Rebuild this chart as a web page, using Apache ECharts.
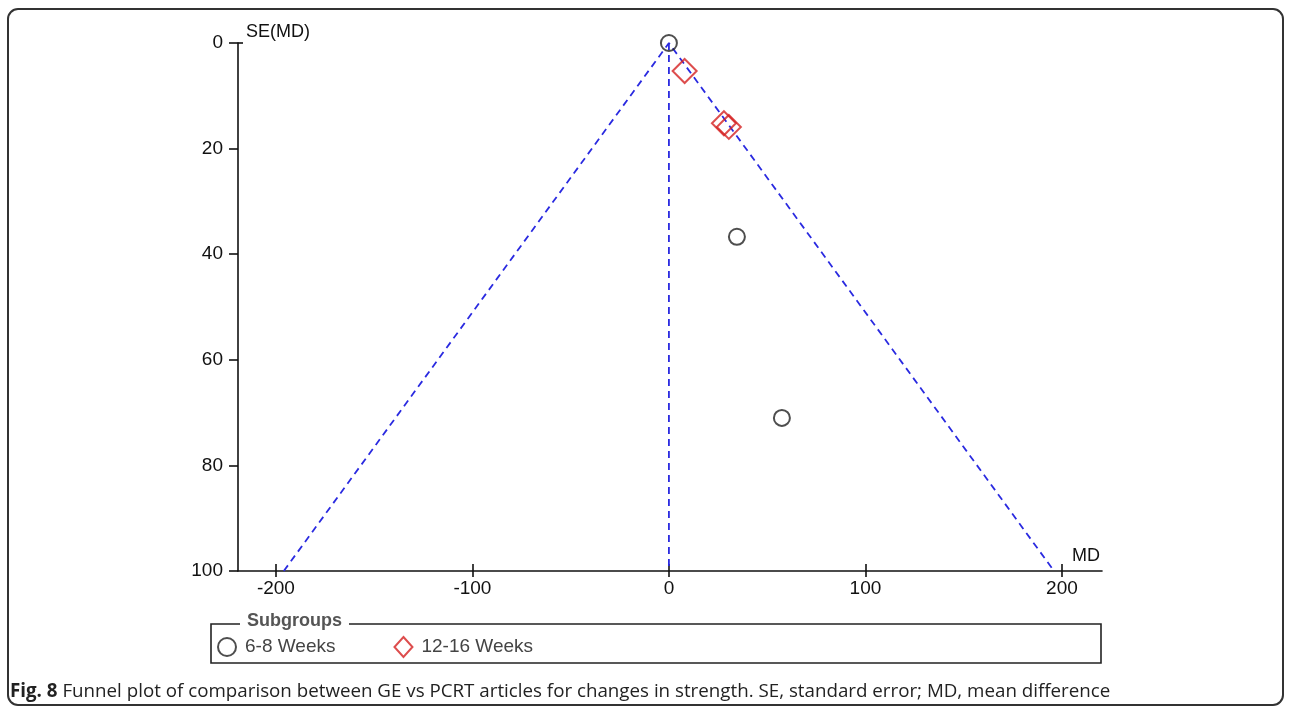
<!DOCTYPE html>
<html>
<head>
<meta charset="utf-8">
<script src="https://cdn.jsdelivr.net/npm/echarts@6/dist/echarts.min.js"></script>
<style>
  html, body { margin: 0; padding: 0; background: #fff; }
  #frame { position: absolute; left: 7px; top: 8px; width: 1273px; height: 694px; border: 2px solid #333; border-radius: 11px; }
  #chart { position: absolute; left: 0; top: 0; width: 1290px; height: 711px; }
  #caption { position: absolute; left: 10px; top: 677px; font-family: "Open Sans", "Noto Sans", sans-serif; font-size: 18.75px; color: #222; white-space: nowrap; letter-spacing: 0; }
</style>
</head>
<body>
<div id="frame"></div>
<div id="chart"></div>
<div id="caption"><b>Fig. 8</b> Funnel plot of comparison between GE vs PCRT articles for changes in strength. SE, standard error; MD, mean difference</div>
<script>
// Data (x = MD, y = SE(MD))
const groupNames = ['6-8 Weeks', '12-16 Weeks'];
const weeks6to8 = [[0, 0], [34.6, 36.7], [57.5, 71]];
const weeks12to16 = [[8, 5.3], [28, 15.2], [30.5, 15.9]];
const funnelOuter = [[-196, 100], [0, 0], [196, 100]];
const funnelCenter = [[0, 0], [0, 100]];
const xTicks = [-200, -100, 0, 100, 200];
const yTicks = [0, 20, 40, 60, 80, 100];

const chart = echarts.init(document.getElementById('chart'));
const font = 'Arial, "Liberation Sans", sans-serif';
const lineColor = '#2a2ae0';
const axisColor = '#111';

const baseX = { type: 'value', min: -219.3, max: 220.4, splitLine: { show: false } };
const baseY = { type: 'value', inverse: true, min: 0, max: 100, splitLine: { show: false } };

chart.setOption({
  animation: false,
  grid: { left: 238, top: 43, width: 864, height: 528, containLabel: false },
  xAxis: [
    Object.assign({}, baseX, {
      position: 'bottom',
      name: 'MD', nameLocation: 'end', nameGap: 0,
      nameTextStyle: { fontFamily: font, fontSize: 18, color: axisColor, align: 'right', verticalAlign: 'bottom', padding: [0, 2, 6, 0] },
      axisLine: { onZero: false, lineStyle: { color: axisColor, width: 1.6 } },
      axisTick: { show: true, length: 6, customValues: xTicks, lineStyle: { color: axisColor, width: 1.6 } },
      axisLabel: { customValues: xTicks, fontFamily: font, fontSize: 19, color: axisColor, margin: 8 }
    }),
    Object.assign({}, baseX, {
      position: 'bottom',
      axisLine: { show: false, onZero: false },
      axisTick: { show: true, inside: true, length: 7, customValues: xTicks, lineStyle: { color: axisColor, width: 1.6 } },
      axisLabel: { show: false }
    })
  ],
  yAxis: [
    Object.assign({}, baseY, {
      position: 'left',
      name: 'SE(MD)', nameLocation: 'start', nameGap: 2,
      nameTextStyle: { fontFamily: font, fontSize: 18, color: axisColor, align: 'left', verticalAlign: 'bottom', padding: [0, 0, 0, 8] },
      axisLine: { onZero: false, lineStyle: { color: axisColor, width: 1.6 } },
      axisTick: { show: true, length: 9, customValues: yTicks, lineStyle: { color: axisColor, width: 1.6 } },
      axisLabel: { customValues: yTicks, fontFamily: font, fontSize: 19, color: axisColor, margin: 15 }
    }),
    Object.assign({}, baseY, {
      position: 'left',
      axisLine: { show: false, onZero: false },
      axisTick: { show: true, inside: true, length: 5, customValues: [0], lineStyle: { color: axisColor, width: 1.6 } },
      axisLabel: { show: false }
    })
  ],
  legend: {
    left: 212, top: 631, itemGap: 58, itemWidth: 18, itemHeight: 20,
    textStyle: { fontFamily: font, fontSize: 19, color: '#444', padding: [0, 0, 0, 4] },
    data: [
      { name: groupNames[0], icon: 'circle', itemStyle: { color: '#fff', borderColor: '#222', borderWidth: 2 } },
      { name: groupNames[1], icon: 'diamond', itemStyle: { color: '#fff', borderColor: '#d42020', borderWidth: 2 } }
    ]
  },
  graphic: [
    { type: 'rect', shape: { x: 211, y: 624, width: 890, height: 39 }, style: { fill: 'none', stroke: '#222', lineWidth: 1.6 }, z: 1 },
    { type: 'text', x: 240, y: 611, style: { text: 'Subgroups', font: 'bold 18px Arial, "Liberation Sans", sans-serif', fill: '#555', backgroundColor: '#fff', padding: [1, 7, 1, 7] }, z: 2 }
  ],
  series: [
    { type: 'line', data: funnelOuter, symbol: 'none', silent: true, z: 1,
      lineStyle: { color: lineColor, width: 1.8, type: [7, 5] } },
    { type: 'line', data: funnelCenter, symbol: 'none', silent: true, z: 1,
      lineStyle: { color: lineColor, width: 1.8, type: [7, 5] } },
    { name: groupNames[0], type: 'scatter', data: weeks6to8, symbol: 'circle', symbolSize: 16, z: 3,
      itemStyle: { color: 'rgba(255,255,255,0)', borderColor: '#222', borderWidth: 2 } },
    { name: groupNames[1], type: 'scatter', data: weeks12to16, symbol: 'diamond', symbolSize: 24, z: 3,
      itemStyle: { color: 'rgba(255,255,255,0)', borderColor: '#d42020', borderWidth: 2 } }
  ]
});
</script>
</body>
</html>
